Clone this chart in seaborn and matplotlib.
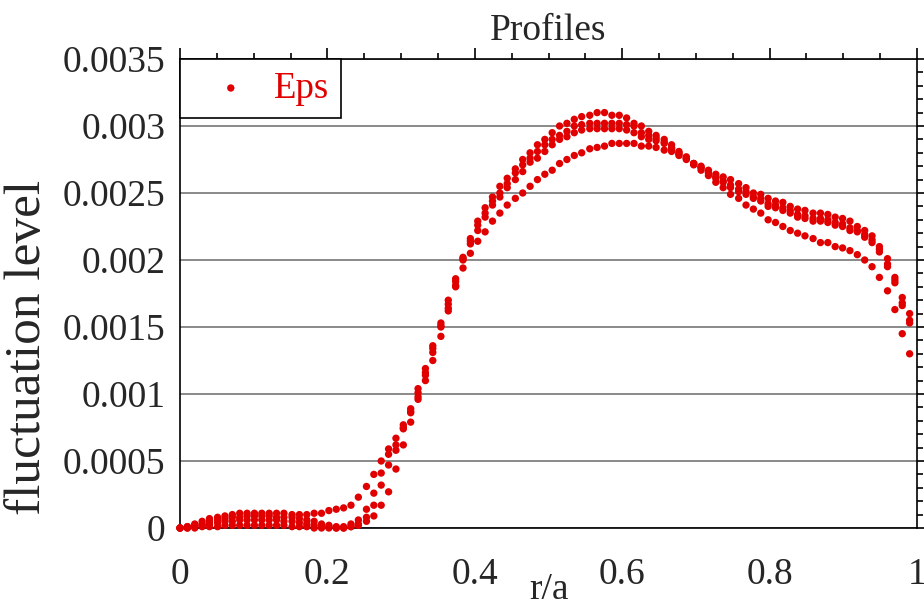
import numpy as np
import pandas as pd
import matplotlib
matplotlib.use("Agg")
import matplotlib.pyplot as plt
import seaborn as sns
from matplotlib.ticker import MultipleLocator, FixedLocator, FixedFormatter

# ---- data ----
r_over_a = [0.000, 0.010, 0.020, 0.030, 0.040, 0.051, 0.061, 0.071, 0.081, 0.091,
            0.101, 0.111, 0.121, 0.131, 0.141, 0.152, 0.162, 0.172, 0.182, 0.192,
            0.202, 0.212, 0.222, 0.232, 0.242, 0.253, 0.263, 0.273, 0.283, 0.293,
            0.303, 0.313, 0.323, 0.333, 0.343, 0.354, 0.364, 0.374, 0.384, 0.394,
            0.404, 0.414, 0.424, 0.434, 0.444, 0.455, 0.465, 0.475, 0.485, 0.495,
            0.505, 0.515, 0.525, 0.535, 0.545, 0.556, 0.566, 0.576, 0.586, 0.596,
            0.606, 0.616, 0.626, 0.636, 0.646, 0.657, 0.667, 0.677, 0.687, 0.697,
            0.707, 0.717, 0.727, 0.737, 0.747, 0.758, 0.768, 0.778, 0.788, 0.798,
            0.808, 0.818, 0.828, 0.838, 0.848, 0.859, 0.869, 0.879, 0.889, 0.899,
            0.909, 0.919, 0.929, 0.939, 0.949, 0.960, 0.970, 0.980, 0.990]

# fluctuation level of the four profiles, in units of 1e-5
eps_profile_1 = [0, 1, 3, 5, 7, 8, 9, 10, 11, 11,
                 11, 11, 11, 11, 11, 10, 10, 10, 11, 11,
                 13, 14, 15, 17, 23, 31, 40, 50, 59, 67,
                 77, 89, 104, 119, 136, 153, 170, 186, 202, 216,
                 229, 239, 247, 255, 261, 268, 275, 280, 286, 290,
                 295, 300, 302, 305, 307, 308, 310, 310, 308, 308,
                 306, 302, 300, 296, 293, 290, 286, 281, 277, 272,
                 270, 267, 264, 262, 260, 257, 254, 250, 249, 246,
                 244, 243, 240, 238, 237, 235, 235, 234, 232, 231,
                 229, 225, 222, 218, 210, 201, 187, 172, 160]
eps_profile_2 = [0, 1, 2, 3, 5, 6, 7, 8, 8, 9,
                 9, 9, 9, 8, 8, 8, 7, 6, 5, 3,
                 2, 1, 1, 3, 6, 14, 26, 41, 55, 62,
                 75, 87, 101, 116, 134, 151, 167, 184, 201, 214,
                 226, 235, 244, 250, 257, 265, 271, 276, 281, 286,
                 290, 293, 296, 300, 301, 302, 302, 302, 302, 302,
                 301, 300, 295, 293, 291, 288, 284, 280, 276, 272,
                 269, 266, 262, 259, 256, 253, 251, 247, 246, 242,
                 241, 239, 237, 234, 233, 231, 231, 230, 228, 227,
                 224, 222, 219, 215, 208, 197, 185, 168, 155]
eps_profile_3 = [0, 0, 1, 2, 3, 4, 5, 5, 6, 6,
                 6, 6, 6, 6, 5, 5, 4, 3, 2, 1,
                 1, 0, 0, 1, 3, 8, 17, 32, 47, 58,
                 74, 86, 98, 114, 131, 150, 164, 181, 200, 212,
                 222, 232, 241, 247, 254, 260, 266, 273, 276, 281,
                 286, 290, 292, 295, 297, 298, 298, 298, 298, 298,
                 297, 295, 292, 290, 289, 287, 283, 279, 276, 272,
                 269, 265, 261, 258, 254, 251, 249, 246, 244, 240,
                 239, 237, 235, 232, 231, 229, 229, 228, 226, 225,
                 222, 221, 217, 213, 206, 195, 183, 166, 153]
eps_profile_4 = [0, 0, 0, 1, 1, 1, 2, 2, 2, 2,
                 2, 2, 2, 2, 2, 1, 1, 1, 0, 0,
                 0, 0, 0, 1, 2, 5, 9, 17, 27, 44,
                 62, 79, 96, 110, 125, 143, 162, 180, 194, 205,
                 214, 221, 229, 235, 241, 246, 250, 255, 260, 264,
                 267, 272, 275, 278, 280, 283, 284, 285, 287, 287,
                 287, 287, 285, 285, 284, 282, 281, 278, 275, 271,
                 267, 263, 258, 254, 249, 246, 241, 238, 235, 230,
                 228, 225, 222, 220, 218, 216, 213, 213, 210, 209,
                 207, 204, 200, 195, 187, 177, 163, 145, 130]

series_label = "Eps"
x_ticks = [0, 0.2, 0.4, 0.6, 0.8, 1.0]
x_tick_labels = ["0", "0.2", "0.4", "0.6", "0.8", "1"]
y_ticks = [0, 0.0005, 0.001, 0.0015, 0.002, 0.0025, 0.003, 0.0035]
y_tick_labels = ["0", "0.0005", "0.001", "0.0015", "0.002", "0.0025", "0.003", "0.0035"]

# ---- build table ----
frames = []
for prof in (eps_profile_1, eps_profile_2, eps_profile_3, eps_profile_4):
    frames.append(pd.DataFrame({"r/a": r_over_a,
                                "fluctuation level": np.array(prof, dtype=float) * 1e-5}))
df = pd.concat(frames, ignore_index=True)

# ---- style ----
sns.set_style("white")
plt.rcParams["font.family"] = ["Liberation Serif", "DejaVu Serif"]
plt.rcParams["axes.linewidth"] = 1.2

RED = "#e00000"
FS = 27

fig = plt.figure(figsize=(9.24, 6.08), dpi=100)
ax = fig.add_axes([180 / 924, 1 - 528 / 608, 737 / 924, 469 / 608])

sns.scatterplot(data=df, x="r/a", y="fluctuation level", ax=ax,
                color=RED, s=28, linewidth=0, edgecolor="none",
                label=series_label, clip_on=False, zorder=3)

ax.set_xlim(0, 1)
ax.set_ylim(0, 0.0035)
ax.xaxis.set_major_locator(FixedLocator(x_ticks))
ax.xaxis.set_major_formatter(FixedFormatter(x_tick_labels))
ax.xaxis.set_minor_locator(MultipleLocator(0.05))
ax.yaxis.set_major_locator(FixedLocator(y_ticks))
ax.yaxis.set_major_formatter(FixedFormatter(y_tick_labels))
ax.yaxis.set_minor_locator(MultipleLocator(0.0001))

for s in ax.spines.values():
    s.set_visible(True)
    s.set_color("black")
    s.set_linewidth(1.2)

ax.tick_params(which="both", direction="out", top=True, right=True,
               labeltop=False, labelright=False, color="black", width=1.2)
ax.tick_params(which="major", length=8, labelsize=FS)
ax.tick_params(which="minor", length=4.5)
ax.tick_params(axis="x", which="major", pad=13)
ax.tick_params(axis="y", which="major", pad=2.5)

ax.yaxis.grid(True, which="major", color="#808080", linewidth=1.3)
ax.xaxis.grid(False)
ax.set_axisbelow(True)

ax.set_title("Profiles", fontsize=FS, pad=14)
ax.set_xlabel("r/a", fontsize=FS)
ax.set_ylabel("fluctuation level", fontsize=37)
ax.xaxis.label.set_va("center")
ax.xaxis.set_label_coords(0.5, -0.132)
ax.yaxis.label.set_va("center")
ax.yaxis.set_label_coords(-0.206, 0.384)

leg = ax.legend(loc="upper left", bbox_to_anchor=(0, 1), borderaxespad=0,
                fontsize=26.5, frameon=True, fancybox=False, framealpha=1,
                borderpad=0.33, handlelength=2.1, handletextpad=0.12,
                scatterpoints=1, labelcolor=RED)
leg.get_frame().set_edgecolor("black")
leg.get_frame().set_linewidth(1.2)

fig.savefig("out.png", dpi=100)
